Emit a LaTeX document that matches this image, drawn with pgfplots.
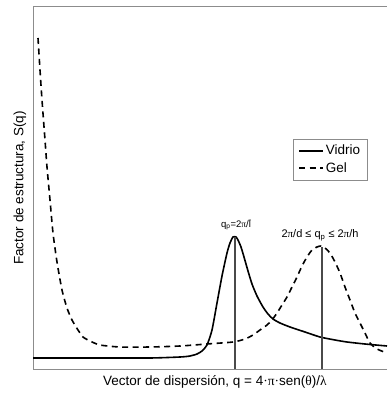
\documentclass[border=0pt]{standalone}
\usepackage{fontspec}
\setmainfont{Liberation Sans}
\newfontfamily\grk{Liberation Serif}
\usepackage{pgfplots}
\pgfplotsset{compat=1.18}
\definecolor{framegray}{HTML}{8C8C8C}
\definecolor{markgray}{HTML}{4A4A4A}
\begin{document}
\begin{tikzpicture}
\begin{axis}[
  at={(0pt,0pt)}, anchor=south west,
  scale only axis, width=354pt, height=362pt,
  xmin=33, xmax=387, ymin=0, ymax=362,
  xtick=\empty, ytick=\empty,
  axis line style={draw=none},
  clip=false,
  xlabel={Vector de dispersión, q = 4{\grk·π·}sen({\grk θ})/{\grk λ}},
  ylabel={Factor de estructura, S(q)},
  label style={font=\fontsize{13.5}{16}\selectfont},
  xlabel style={at={(axis description cs:0.514,-0.036)}, anchor=center},
  ylabel style={at={(axis description cs:-0.037,0.5)}, anchor=center, rotate=0},
  legend style={at={(axis description cs:0.7345,0.6354)}, anchor=north west,
    draw=framegray, font=\fontsize{13.5}{16}\selectfont,
    inner xsep=5pt, inner ysep=4pt, row sep=2pt},
  legend cell align=left,
  legend image code/.code={\draw[#1] (0pt,0pt) -- (24pt,0pt);},
]
% frame on three sides
\draw[framegray, line width=1pt] (rel axis cs:1,0) -- (rel axis cs:0,0) -- (rel axis cs:0,1) -- (rel axis cs:1,1);

\addplot[black, line width=1.6pt, smooth, tension=0.4] coordinates {
(33,11) (100,11) (150,11) (180,12) (190,13) (197,15) (202,18) (207,24)
(212,39) (217,66) (222,93) (227,116) (230,126) (233,132) (236,132)
(238,129) (241,122) (244,112) (248,98) (252,85) (257,73) (263,62)
(268,55) (273,50) (280,46) (290,42) (305,37) (320,32) (335,29)
(347,27) (365,25) (387,23)
};
\addlegendentry{Vidrio}

\addplot[black, line width=1.6pt, dash pattern=on 6pt off 4.5pt, smooth, tension=0.4] coordinates {
(38,331) (40,299) (42,269) (45,229) (47,202) (50,169) (53,136) (57,107)
(62,79) (67,61) (72,49) (78,39) (83,32) (90,28) (100,24) (120,22)
(150,22) (180,23) (207,25) (233,27) (245,30) (253,34) (260,39)
(267,44) (272,49) (277,56) (282,64) (287,72) (292,82) (297,92)
(302,103) (307,112) (312,119) (317,122) (321,123) (325,121) (330,116)
(335,107) (340,96) (345,82) (350,69) (355,56) (360,46) (365,36)
(370,26) (377,20) (387,16)
};
\addlegendentry{Gel}

% peak positions
\draw[markgray, line width=1.2pt] (axis cs:235,0) -- (axis cs:235,132);
\draw[markgray, line width=1.2pt] (axis cs:322,0) -- (axis cs:322,122);
\node[font=\fontsize{9.5}{11}\selectfont] at (axis cs:236,144) {q\textsubscript{p}=2{\grk π}/\={l}};
\node[font=\fontsize{11}{12}\selectfont] at (axis cs:320,134) {2{\grk π}/d ≤ q\textsubscript{p} ≤ 2{\grk π}/h};
\end{axis}
\useasboundingbox (-33pt,-28pt) rectangle (354pt,369pt);
\end{tikzpicture}
\end{document}
